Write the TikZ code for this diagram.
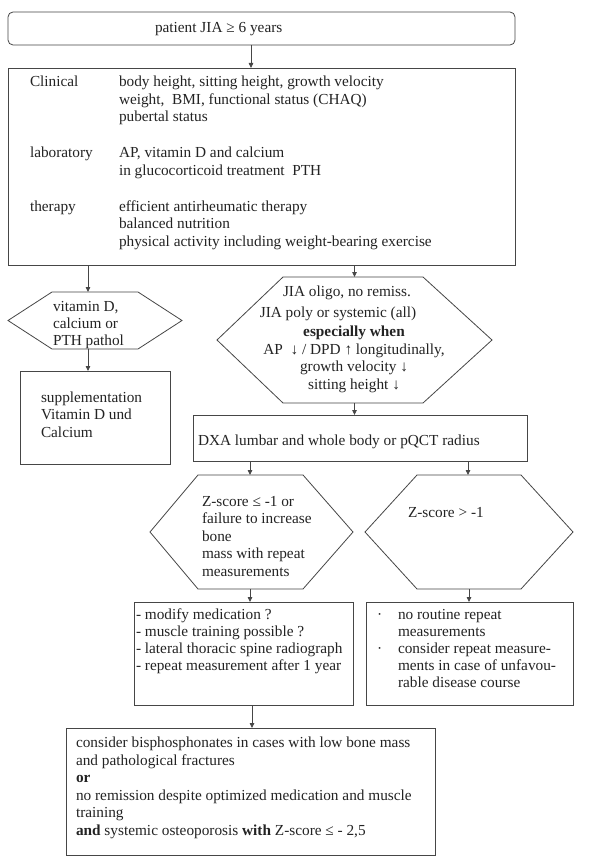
\documentclass[tikz,border=0pt]{standalone}
\usepackage{fontspec}
\setmainfont{Liberation Serif}
\usetikzlibrary{arrows.meta}
\definecolor{lncol}{RGB}{70,70,70}
\definecolor{txcol}{RGB}{35,35,35}
\tikzset{
  ln/.style={draw=lncol, line width=0.8pt},
  boxnode/.style={ln, rectangle, anchor=north west, inner sep=0pt, outer sep=0pt},
  hexnode/.style={rectangle, anchor=north west, inner sep=0pt, outer sep=0pt},
  arr/.style={draw=lncol, line width=0.8pt, -{Triangle[length=5pt,width=4.5pt]}},
  tx/.style={anchor=base west, inner sep=0pt, outer sep=0pt, text=txcol, font=\fontsize{15.3pt}{17.5pt}\selectfont},
  txc/.style={tx, anchor=base}
}
\newcommand{\tl}[4]{\node[tx] (#1) at (#2,#3) {#4};}
\newcommand{\tc}[4]{\node[txc] (#1) at (#2,#3) {#4};}
\newcommand{\hexpath}[3]{\draw[ln] (#1.west) -- ([xshift=#2]#1.north west) -- ([xshift=-#3]#1.north east) -- (#1.east) -- ([xshift=-#3]#1.south east) -- ([xshift=#2]#1.south west) -- cycle;}
\begin{document}
\begin{tikzpicture}[x=1pt,y=-1pt]
\useasboundingbox[fill=white] (0,0) rectangle (600,861);

% boxes
\node[boxnode, rounded corners=5pt, minimum width=507pt, minimum height=33pt] (top) at (8,12) {};
\node[boxnode, minimum width=507pt, minimum height=197pt] (big) at (8,68) {};
\node[boxnode, minimum width=150pt, minimum height=93pt] (supp) at (20,371) {};
\node[boxnode, minimum width=334pt, minimum height=46pt] (dxa) at (193,415) {};
\node[boxnode, minimum width=219pt, minimum height=103pt] (boxA) at (134,602) {};
\node[boxnode, minimum width=207pt, minimum height=103pt] (boxB) at (366,602) {};
\node[boxnode, minimum width=369pt, minimum height=127pt] (fin) at (66,728) {};

% hexagons
\node[hexnode, minimum width=174pt, minimum height=57pt] (hexL) at (8,292) {};
\hexpath{hexL}{44pt}{44pt}
\node[hexnode, minimum width=275pt, minimum height=126pt] (hexR) at (217,277) {};
\hexpath{hexR}{66pt}{69pt}
\node[hexnode, minimum width=203pt, minimum height=114pt] (hexZa) at (150,475) {};
\hexpath{hexZa}{48pt}{50pt}
\node[hexnode, minimum width=208pt, minimum height=114pt] (hexZb) at (365,475) {};
\hexpath{hexZb}{52pt}{52pt}

% arrows
\draw[arr] ([xshift=-10.5pt]top.south) -- ([xshift=-10.5pt]big.north);
\draw[arr] ([xshift=-7pt]hexL.north |- big.south) -- ([xshift=-7pt]hexL.north);
\draw[arr] (hexR.north |- big.south) -- (hexR.north);
\draw[arr] ([xshift=-7pt]hexL.south) -- ([xshift=-7pt]hexL.south |- supp.north);
\draw[arr] (hexR.south) -- (hexR.south |- dxa.north);
\draw[arr] ([xshift=-1.5pt]hexZa.north |- dxa.south) -- ([xshift=-1.5pt]hexZa.north);
\draw[arr] ([xshift=-1pt]hexZb.north |- dxa.south) -- ([xshift=-1pt]hexZb.north);
\draw[arr] ([xshift=-1.5pt]hexZa.south) -- ([xshift=-1.5pt]hexZa.south |- boxA.north);
\draw[arr] (hexZb.south) -- (hexZb.south |- boxB.north);
\draw[arr] ([xshift=8.5pt]boxA.south) -- ([xshift=8.5pt]boxA.south |- fin.north);

% texts
\tl{t0}{155}{33}{patient JIA ≥ 6 years}

\tl{c1}{30}{87}{Clinical}
\tl{c2}{30}{158}{laboratory}
\tl{c3}{30}{211}{therapy}
\tl{d1}{119}{87}{body height, sitting height, growth velocity}
\tl{d2}{119}{104.5}{weight,\ \ BMI, functional status (CHAQ)}
\tl{d3}{119}{122}{pubertal status}
\tl{d4}{119}{158}{AP, vitamin D and calcium}
\tl{d5}{119}{175.5}{in glucocorticoid treatment\ \ PTH}
\tl{d6}{119}{211}{efficient antirheumatic therapy}
\tl{d7}{119}{228.5}{balanced nutrition}
\tl{d8}{119}{246}{physical activity including weight-bearing exercise}

\tl{h1}{53}{311}{vitamin D,}
\tl{h2}{53}{328}{calcium or}
\tl{h3}{53}{345}{PTH pathol}

\tl{s1}{41}{402}{supplementation}
\tl{s2}{41}{419.5}{Vitamin D und}
\tl{s3}{41}{437}{Calcium}

\tc{r1}{347}{296}{JIA oligo, no remiss.}
\tc{r2}{338}{317}{JIA poly or systemic (all)}
\tc{r3}{354}{336}{\bfseries especially when}
\tc{r4}{354}{354}{AP\ \ ↓ / DPD ↑ longitudinally,}
\tc{r5}{354}{371}{growth velocity ↓}
\tc{r6}{354}{389}{sitting height ↓}

\tl{x1}{198}{445}{DXA lumbar and whole body or pQCT radius}

\tl{z1}{202}{506}{Z-score ≤ -1 or}
\tl{z2}{202}{523}{failure to increase}
\tl{z3}{202}{541}{bone}
\tl{z4}{202}{558}{mass with repeat}
\tl{z5}{202}{576}{measurements}

\tl{y1}{408}{517}{Z-score > -1}

\tl{a1}{136}{619}{- modify medication ?}
\tl{a2}{136}{636}{- muscle training possible ?}
\tl{a3}{136}{653}{- lateral thoracic spine radiograph}
\tl{a4}{136}{670}{- repeat measurement after 1 year}

\tl{bb1}{377}{619}{·}
\tl{bb3}{377}{653}{·}
\tl{b1}{398}{619}{no routine repeat}
\tl{b2}{398}{636}{measurements}
\tl{b3}{398}{653}{consider repeat measure-}
\tl{b4}{398}{670}{ments in case of unfavou-}
\tl{b5}{398}{687}{rable disease course}

\tl{f1}{76}{747}{consider bisphosphonates in cases with low bone mass}
\tl{f2}{76}{765}{and pathological fractures}
\tl{f3}{76}{782}{\bfseries or}
\tl{f4}{76}{800}{no remission despite optimized medication and muscle}
\tl{f5}{76}{817}{training}
\tl{f6}{76}{835}{\textbf{and} systemic osteoporosis \textbf{with} Z-score ≤ - 2,5}
\end{tikzpicture}
\end{document}
